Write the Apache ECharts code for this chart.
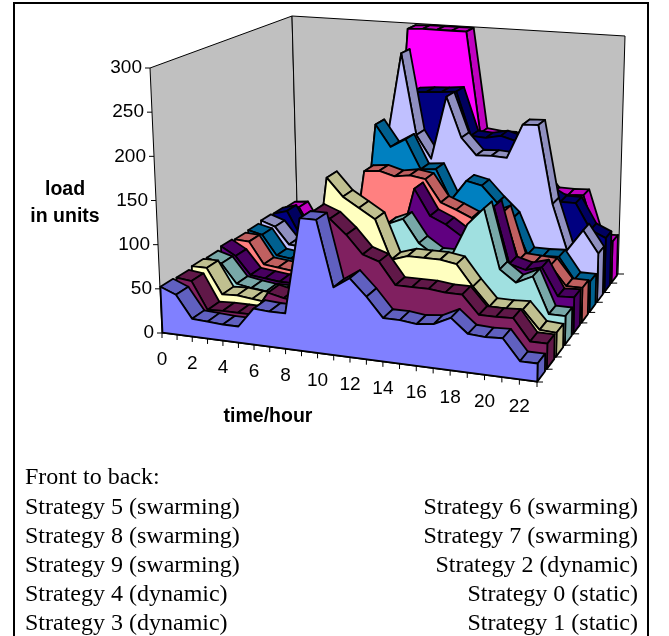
<!DOCTYPE html>
<html>
<head>
<meta charset="utf-8">
<style>html,body{margin:0;padding:0;background:#fff}#chart{width:669px;height:636px}</style>
<script src="https://cdn.jsdelivr.net/npm/echarts@6/dist/echarts.min.js"></script>
</head>
<body>
<div id="chart"></div>
<script>
// values per hour
const hours = [0,1,2,3,4,5,6,7,8,9,10,11,12,13,14,15,16,17,18,19,20,21,22,23];
const loadTicks = [0,50,100,150,200,250,300];
const strategy5 = [52,45,20,19,18,18,40,39,39,146,146,74,86,68,47,47,45,47,56,41,40,41,19,19];
const strategy8 = [51,49,18,19,19,19,46,42,40,144,137,121,101,95,71,71,71,69,69,49,49,50,27,27];
const strategy9 = [53,53,24,25,23,21,36,36,35,172,152,141,130,86,92,92,92,89,66,46,46,47,27,26];
const strategy4 = [52,47,25,22,20,20,35,35,35,60,80,100,114,122,96,84,84,123,143,76,63,72,32,32];
const strategy3 = [55,45,24,22,20,20,30,28,28,60,70,76,76,147,117,109,97,106,135,71,66,71,40,41];
const strategy6 = [53,52,26,24,22,22,30,28,30,152,154,149,152,149,123,116,108,110,119,64,63,62,40,40];
const strategy7 = [54,50,26,24,22,22,30,30,30,200,174,185,150,152,116,141,137,118,101,60,60,61,36,36];
const strategy2 = [56,50,29,28,24,22,30,30,60,170,282,182,154,232,183,163,164,163,205,206,112,58,84,58];
const strategy0 = [55,60,28,25,22,20,30,30,40,80,226,228,229,231,177,176,180,175,145,115,105,105,74,66];
const strategy1 = [53,55,25,22,20,20,30,30,40,299,300,300,300,300,172,170,170,165,126,104,104,105,50,51];
const legendLeft = ['Strategy 5 (swarming)','Strategy 8 (swarming)','Strategy 9 (swarming)','Strategy 4 (dynamic)','Strategy 3 (dynamic)'];
const legendRight = ['Strategy 6 (swarming)','Strategy 7 (swarming)','Strategy 2 (dynamic)','Strategy 0 (static)','Strategy 1 (static)'];

// front to back
const ribbons = [
  {values: strategy5, face: '#8080ff', top: '#6060c0'},
  {values: strategy8, face: '#802060', top: '#601848'},
  {values: strategy9, face: '#ffffc0', top: '#c0c090'},
  {values: strategy4, face: '#a0e0e0', top: '#78a8a8'},
  {values: strategy3, face: '#600080', top: '#480060'},
  {values: strategy6, face: '#ff8080', top: '#c06060'},
  {values: strategy7, face: '#0080c0', top: '#006090'},
  {values: strategy2, face: '#c0c0ff', top: '#9090c0'},
  {values: strategy0, face: '#000080', top: '#000060'},
  {values: strategy1, face: '#ff00ff', top: '#c000c0'}
];

// box corners on the page: front-left, front-right, back-right, back-left
const floorQuad = [[162,333],[537,382],[618,274],[298,240]];
const topQuad = [[150,68],[542,96],[625,36],[292,16]];
const maxLoad = 300;
const ribbonFront = 0.03;
const ribbonBack = 0.82;

function squareToQuad(q) {
  const [x0,y0] = q[0], [x1,y1] = q[1], [x2,y2] = q[2], [x3,y3] = q[3];
  const dx1 = x1-x2, dx2 = x3-x2, sx = x0-x1+x2-x3;
  const dy1 = y1-y2, dy2 = y3-y2, sy = y0-y1+y2-y3;
  const det = dx1*dy2-dx2*dy1;
  const g = (sx*dy2-dx2*sy)/det, h = (dx1*sy-sx*dy1)/det;
  const a = x1-x0+g*x1, b = x3-x0+h*x3, d = y1-y0+g*y1, e = y3-y0+h*y3;
  return (u, v) => {
    const w = g*u+h*v+1;
    return [(a*u+b*v+x0)/w, (d*u+e*v+y0)/w];
  };
}
const floorAt = squareToQuad(floorQuad);
const topAt = squareToQuad(topQuad);

// hour, depth 0..1, load -> page plane
function project(hour, depth, load) {
  const u = hour/(hours.length-1), k = load/maxLoad;
  const f = floorAt(u, depth), t = topAt(u, depth);
  return [f[0]+(t[0]-f[0])*k, f[1]+(t[1]-f[1])*k];
}

const edge = {stroke: '#000', lineWidth: 1.8, lineJoin: 'round'};

function ribbonSeries(r, idx) {
  const vFront = (idx+ribbonFront)/ribbons.length;
  const vBack = (idx+ribbonBack)/ribbons.length;
  return {
    type: 'custom',
    coordinateSystem: 'cartesian2d',
    clip: false,
    silent: true,
    z: 10+(ribbons.length-idx),
    encode: {x: 0, y: 1},
    data: r.values.map((v, i) => [i, v]),
    renderItem(params, api) {
      const i = api.value(0);
      const p = (h, d, z) => api.coord(project(h, d, z));
      const last = r.values.length-1;
      const children = [];
      if (i < last) {
        const a = r.values[i], b = r.values[i+1];
        children.push({type: 'polygon', z2: i, shape: {points: [p(i,vFront,a), p(i+1,vFront,b), p(i+1,vBack,b), p(i,vBack,a)]},
          style: Object.assign({fill: r.top}, edge)});
      } else {
        const front = [p(0,vFront,0)];
        r.values.forEach((v, h) => front.push(p(h,vFront,v)));
        front.push(p(last,vFront,0));
        children.push({type: 'polygon', z2: 100, shape: {points: [p(last,vFront,0), p(last,vFront,r.values[last]), p(last,vBack,r.values[last]), p(last,vBack,0)]},
          style: Object.assign({fill: r.top}, edge)});
        children.push({type: 'polygon', z2: 101, shape: {points: front},
          style: Object.assign({fill: r.face}, edge)});
      }
      return {type: 'group', children};
    }
  };
}

const wallSeries = {
  type: 'custom',
  coordinateSystem: 'cartesian2d',
  clip: false,
  silent: true,
  z: 2,
  encode: {x: 0, y: 1},
  data: [[0, 0]],
  renderItem(params, api) {
    const p = (h, d, z) => api.coord(project(h, d, z));
    const H = hours.length-1;
    const style = {fill: '#c0c0c0', stroke: '#000', lineWidth: 1};
    return {type: 'group', children: [
      {type: 'polygon', shape: {points: [p(0,0,0), p(0,1,0), p(0,1,maxLoad), p(0,0,maxLoad)]}, style},
      {type: 'polygon', shape: {points: [p(0,1,0), p(H,1,0), p(H,1,maxLoad), p(0,1,maxLoad)]}, style},
      {type: 'polygon', shape: {points: [p(0,0,0), p(H,0,0), p(H,1,0), p(0,1,0)]}, style}
    ]};
  }
};

const labelFont = '19px "Liberation Sans"';

const loadAxisSeries = {
  type: 'custom',
  coordinateSystem: 'cartesian2d',
  clip: false,
  silent: true,
  z: 3,
  encode: {x: 0, y: 1},
  data: loadTicks.map(t => [0, t]),
  renderItem(params, api) {
    const t = api.value(1);
    const c = api.coord(project(0, 0, t));
    return {type: 'group', children: [
      {type: 'line', shape: {x1: c[0]-5, y1: c[1], x2: c[0], y2: c[1]}, style: {stroke: '#000', lineWidth: 1}},
      {type: 'text', style: {text: String(t), x: c[0]-8, y: c[1], align: 'right', verticalAlign: 'middle', font: labelFont, fill: '#000'}}
    ]};
  }
};

const hourAxisSeries = {
  type: 'custom',
  coordinateSystem: 'cartesian2d',
  clip: false,
  silent: true,
  z: 3,
  encode: {x: 0, y: 1},
  data: hours.map(h => [h, 0]),
  renderItem(params, api) {
    const h = api.value(0);
    const c = api.coord(project(h, 0, 0));
    const children = [{type: 'line', shape: {x1: c[0], y1: c[1], x2: c[0], y2: c[1]+5}, style: {stroke: '#000', lineWidth: 1}}];
    if (h % 2 === 0) {
      children.push({type: 'text', style: {text: String(h), x: c[0], y: c[1]+27, align: 'center', verticalAlign: 'middle', font: labelFont, fill: '#000'}});
    }
    return {type: 'group', children};
  }
};

const depthTicks = [0,1,2,3,4,5,6,7,8,9,10];
const depthAxisSeries = {
  type: 'custom',
  coordinateSystem: 'cartesian2d',
  clip: false,
  silent: true,
  z: 3,
  encode: {x: 0, y: 1},
  data: depthTicks.map(d => [d, 0]),
  renderItem(params, api) {
    const c = api.coord(project(hours.length-1, api.value(0)/10, 0));
    return {type: 'line', shape: {x1: c[0], y1: c[1], x2: c[0]+6, y2: c[1]}, style: {stroke: '#000', lineWidth: 1}};
  }
};

const serif = '24px "Liberation Serif"';
const bold = 'bold 19.5px "Liberation Sans"';
const graphics = [
  {type: 'rect', shape: {x: 14, y: 3, width: 634, height: 640}, style: {fill: 'none', stroke: '#000', lineWidth: 2}},
  {type: 'text', x: 65, y: 190, style: {text: 'load', font: bold, align: 'center', verticalAlign: 'middle', fill: '#000'}},
  {type: 'text', x: 65, y: 217, style: {text: 'in units', font: bold, align: 'center', verticalAlign: 'middle', fill: '#000'}},
  {type: 'text', x: 268, y: 417, style: {text: 'time/hour', font: bold, align: 'center', verticalAlign: 'middle', fill: '#000'}},
  {type: 'text', x: 25, y: 478, style: {text: 'Front to back:', font: serif, verticalAlign: 'middle', fill: '#000'}}
];
legendLeft.forEach((t, i) => graphics.push({type: 'text', x: 25, y: 508+i*29, style: {text: t, font: serif, verticalAlign: 'middle', fill: '#000'}}));
legendRight.forEach((t, i) => graphics.push({type: 'text', x: 638, y: 508+i*29, style: {text: t, font: serif, align: 'right', verticalAlign: 'middle', fill: '#000'}}));

const chart = echarts.init(document.getElementById('chart'), null, {renderer: 'canvas'});
chart.setOption({
  animation: false,
  backgroundColor: '#fff',
  grid: {left: 0, right: 0, top: 0, bottom: 0},
  xAxis: {type: 'value', min: 0, max: 669, show: false},
  yAxis: {type: 'value', min: 0, max: 636, inverse: true, show: false},
  graphic: graphics,
  series: [wallSeries, loadAxisSeries, hourAxisSeries, depthAxisSeries].concat(ribbons.map(ribbonSeries))
});
</script>
</body>
</html>
